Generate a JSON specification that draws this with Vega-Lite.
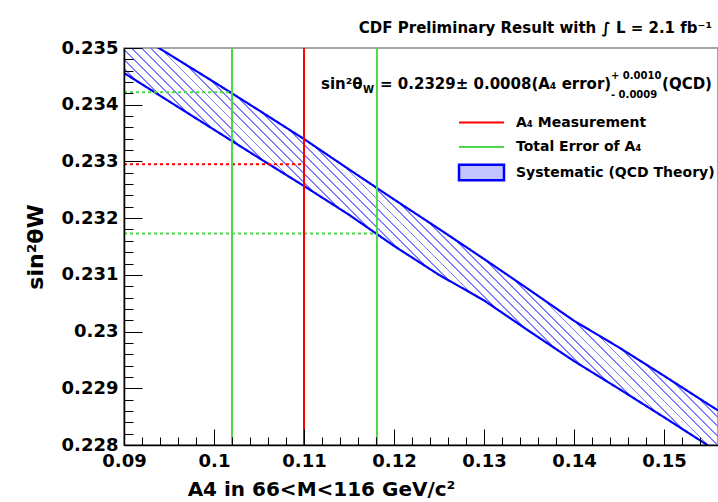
{
  "$schema": "https://vega.github.io/schema/vega-lite/v6.json",
  "width": 594,
  "height": 397,
  "autosize": "none",
  "padding": {"left": 124, "top": 48, "right": 0, "bottom": 57},
  "background": "white",
  "config": {
    "font": "DejaVu Sans",
    "view": {"stroke": "#888888", "strokeWidth": 1.5}
  },
  "title": {
    "text": "CDF Preliminary Result with ∫ L = 2.1 fb⁻¹",
    "anchor": "end",
    "frame": "group",
    "font": "DejaVu Sans",
    "fontSize": 15,
    "fontWeight": "bold",
    "color": "black",
    "dx": -6,
    "offset": 3
  },
  "datasets": {
    "band": [
      {"a4": 0.09, "hi": 0.23538, "lo": 0.23456, "sys": "Systematic (QCD Theory)"},
      {"a4": 0.095, "hi": 0.23489, "lo": 0.23406, "sys": "Systematic (QCD Theory)"},
      {"a4": 0.1, "hi": 0.2344, "lo": 0.23356, "sys": "Systematic (QCD Theory)"},
      {"a4": 0.105, "hi": 0.2339, "lo": 0.23306, "sys": "Systematic (QCD Theory)"},
      {"a4": 0.11, "hi": 0.233395, "lo": 0.232567, "sys": "Systematic (QCD Theory)"},
      {"a4": 0.115, "hi": 0.23286, "lo": 0.23206, "sys": "Systematic (QCD Theory)"},
      {"a4": 0.12, "hi": 0.23233, "lo": 0.23151, "sys": "Systematic (QCD Theory)"},
      {"a4": 0.125, "hi": 0.23181, "lo": 0.231, "sys": "Systematic (QCD Theory)"},
      {"a4": 0.13, "hi": 0.23128, "lo": 0.23055, "sys": "Systematic (QCD Theory)"},
      {"a4": 0.135, "hi": 0.23074, "lo": 0.23001, "sys": "Systematic (QCD Theory)"},
      {"a4": 0.14, "hi": 0.23019, "lo": 0.22948, "sys": "Systematic (QCD Theory)"},
      {"a4": 0.145, "hi": 0.22972, "lo": 0.22899, "sys": "Systematic (QCD Theory)"},
      {"a4": 0.15, "hi": 0.22922, "lo": 0.22849, "sys": "Systematic (QCD Theory)"},
      {"a4": 0.155, "hi": 0.22871, "lo": 0.22798, "sys": "Systematic (QCD Theory)"},
      {"a4": 0.156, "hi": 0.22861, "lo": 0.22788, "sys": "Systematic (QCD Theory)"}
    ],
    "vlines": [
      {"a4": 0.11, "entry": "A₄ Measurement"},
      {"a4": 0.102, "entry": "Total Error of A₄"},
      {"a4": 0.1181, "entry": "Total Error of A₄"}
    ],
    "hlines": [
      {"from": 0.09, "to": 0.11, "s2w": 0.23295, "entry": "A₄ Measurement"},
      {"from": 0.09, "to": 0.102, "s2w": 0.23422, "entry": "Total Error of A₄"},
      {"from": 0.09, "to": 0.1181, "s2w": 0.23173, "entry": "Total Error of A₄"}
    ]
  },
  "layer": [
    {
      "data": {"name": "band"},
      "mark": {
        "type": "area",
        "clip": true,
        "fill": {
          "gradient": "linear",
          "x1": 0, "y1": 0.716, "x2": 1, "y2": 0,
          "stops": [
            {"offset": 0, "color": "rgba(255,255,255,0)"},
            {"offset": 0.2700, "color": "rgba(255,255,255,0)"}, {"offset": 0.2700, "color": "#8080ff"}, {"offset": 0.2720, "color": "#8080ff"}, {"offset": 0.2720, "color": "rgba(255,255,255,0)"},
            {"offset": 0.2805, "color": "rgba(255,255,255,0)"}, {"offset": 0.2805, "color": "#8080ff"}, {"offset": 0.2825, "color": "#8080ff"}, {"offset": 0.2825, "color": "rgba(255,255,255,0)"},
            {"offset": 0.2910, "color": "rgba(255,255,255,0)"}, {"offset": 0.2910, "color": "#8080ff"}, {"offset": 0.2930, "color": "#8080ff"}, {"offset": 0.2930, "color": "rgba(255,255,255,0)"},
            {"offset": 0.3015, "color": "rgba(255,255,255,0)"}, {"offset": 0.3015, "color": "#8080ff"}, {"offset": 0.3035, "color": "#8080ff"}, {"offset": 0.3035, "color": "rgba(255,255,255,0)"},
            {"offset": 0.3120, "color": "rgba(255,255,255,0)"}, {"offset": 0.3120, "color": "#8080ff"}, {"offset": 0.3140, "color": "#8080ff"}, {"offset": 0.3140, "color": "rgba(255,255,255,0)"},
            {"offset": 0.3225, "color": "rgba(255,255,255,0)"}, {"offset": 0.3225, "color": "#8080ff"}, {"offset": 0.3245, "color": "#8080ff"}, {"offset": 0.3245, "color": "rgba(255,255,255,0)"},
            {"offset": 0.3330, "color": "rgba(255,255,255,0)"}, {"offset": 0.3330, "color": "#8080ff"}, {"offset": 0.3350, "color": "#8080ff"}, {"offset": 0.3350, "color": "rgba(255,255,255,0)"},
            {"offset": 0.3435, "color": "rgba(255,255,255,0)"}, {"offset": 0.3435, "color": "#8080ff"}, {"offset": 0.3455, "color": "#8080ff"}, {"offset": 0.3455, "color": "rgba(255,255,255,0)"},
            {"offset": 0.3540, "color": "rgba(255,255,255,0)"}, {"offset": 0.3540, "color": "#8080ff"}, {"offset": 0.3560, "color": "#8080ff"}, {"offset": 0.3560, "color": "rgba(255,255,255,0)"},
            {"offset": 0.3645, "color": "rgba(255,255,255,0)"}, {"offset": 0.3645, "color": "#8080ff"}, {"offset": 0.3665, "color": "#8080ff"}, {"offset": 0.3665, "color": "rgba(255,255,255,0)"},
            {"offset": 0.3750, "color": "rgba(255,255,255,0)"}, {"offset": 0.3750, "color": "#8080ff"}, {"offset": 0.3770, "color": "#8080ff"}, {"offset": 0.3770, "color": "rgba(255,255,255,0)"},
            {"offset": 0.3855, "color": "rgba(255,255,255,0)"}, {"offset": 0.3855, "color": "#8080ff"}, {"offset": 0.3875, "color": "#8080ff"}, {"offset": 0.3875, "color": "rgba(255,255,255,0)"},
            {"offset": 0.3960, "color": "rgba(255,255,255,0)"}, {"offset": 0.3960, "color": "#8080ff"}, {"offset": 0.3980, "color": "#8080ff"}, {"offset": 0.3980, "color": "rgba(255,255,255,0)"},
            {"offset": 0.4065, "color": "rgba(255,255,255,0)"}, {"offset": 0.4065, "color": "#8080ff"}, {"offset": 0.4085, "color": "#8080ff"}, {"offset": 0.4085, "color": "rgba(255,255,255,0)"},
            {"offset": 0.4170, "color": "rgba(255,255,255,0)"}, {"offset": 0.4170, "color": "#8080ff"}, {"offset": 0.4190, "color": "#8080ff"}, {"offset": 0.4190, "color": "rgba(255,255,255,0)"},
            {"offset": 0.4275, "color": "rgba(255,255,255,0)"}, {"offset": 0.4275, "color": "#8080ff"}, {"offset": 0.4295, "color": "#8080ff"}, {"offset": 0.4295, "color": "rgba(255,255,255,0)"},
            {"offset": 0.4380, "color": "rgba(255,255,255,0)"}, {"offset": 0.4380, "color": "#8080ff"}, {"offset": 0.4400, "color": "#8080ff"}, {"offset": 0.4400, "color": "rgba(255,255,255,0)"},
            {"offset": 0.4485, "color": "rgba(255,255,255,0)"}, {"offset": 0.4485, "color": "#8080ff"}, {"offset": 0.4505, "color": "#8080ff"}, {"offset": 0.4505, "color": "rgba(255,255,255,0)"},
            {"offset": 0.4590, "color": "rgba(255,255,255,0)"}, {"offset": 0.4590, "color": "#8080ff"}, {"offset": 0.4610, "color": "#8080ff"}, {"offset": 0.4610, "color": "rgba(255,255,255,0)"},
            {"offset": 0.4695, "color": "rgba(255,255,255,0)"}, {"offset": 0.4695, "color": "#8080ff"}, {"offset": 0.4715, "color": "#8080ff"}, {"offset": 0.4715, "color": "rgba(255,255,255,0)"},
            {"offset": 0.4800, "color": "rgba(255,255,255,0)"}, {"offset": 0.4800, "color": "#8080ff"}, {"offset": 0.4820, "color": "#8080ff"}, {"offset": 0.4820, "color": "rgba(255,255,255,0)"},
            {"offset": 0.4905, "color": "rgba(255,255,255,0)"}, {"offset": 0.4905, "color": "#8080ff"}, {"offset": 0.4925, "color": "#8080ff"}, {"offset": 0.4925, "color": "rgba(255,255,255,0)"},
            {"offset": 0.5010, "color": "rgba(255,255,255,0)"}, {"offset": 0.5010, "color": "#8080ff"}, {"offset": 0.5030, "color": "#8080ff"}, {"offset": 0.5030, "color": "rgba(255,255,255,0)"},
            {"offset": 0.5115, "color": "rgba(255,255,255,0)"}, {"offset": 0.5115, "color": "#8080ff"}, {"offset": 0.5135, "color": "#8080ff"}, {"offset": 0.5135, "color": "rgba(255,255,255,0)"},
            {"offset": 0.5220, "color": "rgba(255,255,255,0)"}, {"offset": 0.5220, "color": "#8080ff"}, {"offset": 0.5240, "color": "#8080ff"}, {"offset": 0.5240, "color": "rgba(255,255,255,0)"},
            {"offset": 0.5325, "color": "rgba(255,255,255,0)"}, {"offset": 0.5325, "color": "#8080ff"}, {"offset": 0.5345, "color": "#8080ff"}, {"offset": 0.5345, "color": "rgba(255,255,255,0)"},
            {"offset": 0.5430, "color": "rgba(255,255,255,0)"}, {"offset": 0.5430, "color": "#8080ff"}, {"offset": 0.5450, "color": "#8080ff"}, {"offset": 0.5450, "color": "rgba(255,255,255,0)"},
            {"offset": 0.5535, "color": "rgba(255,255,255,0)"}, {"offset": 0.5535, "color": "#8080ff"}, {"offset": 0.5555, "color": "#8080ff"}, {"offset": 0.5555, "color": "rgba(255,255,255,0)"},
            {"offset": 0.5640, "color": "rgba(255,255,255,0)"}, {"offset": 0.5640, "color": "#8080ff"}, {"offset": 0.5660, "color": "#8080ff"}, {"offset": 0.5660, "color": "rgba(255,255,255,0)"},
            {"offset": 0.5745, "color": "rgba(255,255,255,0)"}, {"offset": 0.5745, "color": "#8080ff"}, {"offset": 0.5765, "color": "#8080ff"}, {"offset": 0.5765, "color": "rgba(255,255,255,0)"},
            {"offset": 0.5850, "color": "rgba(255,255,255,0)"}, {"offset": 0.5850, "color": "#8080ff"}, {"offset": 0.5870, "color": "#8080ff"}, {"offset": 0.5870, "color": "rgba(255,255,255,0)"},
            {"offset": 1, "color": "rgba(255,255,255,0)"}
          ]
        }
      },
      "encoding": {
        "x": {
          "field": "a4", "type": "quantitative",
          "scale": {"domain": [0.09, 0.156], "nice": false, "zero": false},
          "axis": {
            "values": [0.09, 0.092, 0.094, 0.096, 0.098, 0.1, 0.102, 0.104, 0.106, 0.108, 0.11, 0.112, 0.114, 0.116, 0.118, 0.12, 0.122, 0.124, 0.126, 0.128, 0.13, 0.132, 0.134, 0.136, 0.138, 0.14, 0.142, 0.144, 0.146, 0.148, 0.15, 0.152, 0.154, 0.156],
            "tickCount": 100,
            "labelExpr": "abs(datum.value*100 - round(datum.value*100)) < 1e-6 ? format(datum.value, '.2~f') : ''",
            "tickSize": {"condition": {"test": "abs(datum.value*100 - round(datum.value*100)) < 1e-6", "value": -16}, "value": -8},
            "tickColor": "black",
            "tickWidth": 1,
            "domainColor": "black",
            "domainWidth": 1.5,
            "grid": false,
            "labelFlush": false,
            "labelOverlap": false,
            "labelFont": "DejaVu Sans",
            "labelFontWeight": "bold",
            "labelFontSize": 18,
            "labelColor": "black",
            "labelPadding": 23,
            "title": "A4 in 66<M<116 GeV/c²",
            "titleFont": "DejaVu Sans",
            "titleFontWeight": "bold",
            "titleFontSize": 20,
            "titleColor": "black",
            "titleX": 197,
            "titleAlign": "center",
            "titlePadding": 1,
            "zindex": 1
          }
        },
        "y": {
          "field": "hi", "type": "quantitative",
          "scale": {"domain": [0.228, 0.235], "nice": false, "zero": false},
          "axis": {
            "values": [0.228, 0.2282, 0.2284, 0.2286, 0.2288, 0.229, 0.2292, 0.2294, 0.2296, 0.2298, 0.23, 0.2302, 0.2304, 0.2306, 0.2308, 0.231, 0.2312, 0.2314, 0.2316, 0.2318, 0.232, 0.2322, 0.2324, 0.2326, 0.2328, 0.233, 0.2332, 0.2334, 0.2336, 0.2338, 0.234, 0.2342, 0.2344, 0.2346, 0.2348, 0.235],
            "tickCount": 100,
            "labelExpr": "abs(datum.value*1000 - round(datum.value*1000)) < 1e-6 ? format(datum.value, '.3~f') : ''",
            "tickSize": {"condition": {"test": "abs(datum.value*1000 - round(datum.value*1000)) < 1e-6", "value": -18}, "value": -9},
            "tickColor": "black",
            "tickWidth": 1,
            "domainColor": "black",
            "domainWidth": 1.5,
            "grid": false,
            "labelFlush": false,
            "labelOverlap": false,
            "labelFont": "DejaVu Sans",
            "labelFontWeight": "bold",
            "labelFontSize": 18,
            "labelColor": "black",
            "labelPadding": 24,
            "title": "sin²θW",
            "titleFont": "DejaVu Sans",
            "titleFontWeight": "bold",
            "titleFontSize": 22,
            "titleColor": "black",
            "titlePadding": 14,
            "zindex": 1
          }
        },
        "y2": {"field": "lo"}
      }
    },
    {
      "data": {"name": "band"},
      "transform": [{"fold": ["hi", "lo"], "as": ["edge", "s2w"]}],
      "mark": {"type": "line", "clip": true, "color": "#0000ff", "strokeWidth": 2.2},
      "encoding": {
        "x": {"field": "a4", "type": "quantitative", "scale": {"domain": [0.09, 0.156], "nice": false, "zero": false}},
        "y": {"field": "s2w", "type": "quantitative", "scale": {"domain": [0.228, 0.235], "nice": false, "zero": false}},
        "detail": {"field": "edge"},
        "strokeDash": {
          "field": "sys", "type": "nominal",
          "scale": {"domain": ["Systematic (QCD Theory)"], "range": [[1, 0]]},
          "legend": {
            "orient": "none",
            "legendX": 345,
            "legendY": 112,
            "title": null,
            "padding": 0,
            "symbolType": "M-2,-0.7H2V0.7H-2Z",
            "symbolSize": 506,
            "symbolStrokeWidth": 2.5,
            "symbolStrokeColor": "#0000ff",
            "symbolFillColor": "#c4c4ff",
            "labelOffset": 22,
            "labelLimit": 400,
            "labelFont": "DejaVu Sans",
            "labelFontWeight": "bold",
            "labelFontSize": 14,
            "labelColor": "black"
          }
        }
      }
    },
    {
      "data": {"name": "hlines"},
      "mark": {"type": "rule", "strokeWidth": 2, "strokeDash": [3, 3]},
      "encoding": {
        "x": {"field": "from", "type": "quantitative", "scale": {"domain": [0.09, 0.156], "nice": false, "zero": false}},
        "x2": {"field": "to"},
        "y": {"field": "s2w", "type": "quantitative", "scale": {"domain": [0.228, 0.235], "nice": false, "zero": false}},
        "stroke": {
          "field": "entry", "type": "nominal",
          "scale": {"domain": ["A₄ Measurement", "Total Error of A₄"], "range": ["#ff0000", "#4cd64c"]}
        }
      }
    },
    {
      "data": {"name": "vlines"},
      "mark": {"type": "rule", "strokeWidth": 2},
      "encoding": {
        "x": {"field": "a4", "type": "quantitative", "scale": {"domain": [0.09, 0.156], "nice": false, "zero": false}},
        "stroke": {
          "field": "entry", "type": "nominal",
          "scale": {"domain": ["A₄ Measurement", "Total Error of A₄"], "range": ["#ff0000", "#4cd64c"]},
          "legend": {
            "orient": "none",
            "legendX": 345,
            "legendY": 62,
            "title": null,
            "padding": 0,
            "symbolType": "M-2,0H2",
            "symbolSize": 506,
            "symbolStrokeWidth": 2,
            "labelOffset": 22,
            "rowPadding": 4.5,
            "labelLimit": 400,
            "labelFont": "DejaVu Sans",
            "labelFontWeight": "bold",
            "labelFontSize": 14,
            "labelColor": "black"
          }
        }
      }
    },
    {
      "data": {"values": [{"label": "sin²θ"}]},
      "mark": {"type": "text", "align": "left", "baseline": "middle", "font": "DejaVu Sans", "fontWeight": "bold", "fontSize": 15, "color": "black"},
      "encoding": {
        "x": {"datum": 0.11189, "type": "quantitative", "scale": {"domain": [0.09, 0.156], "nice": false, "zero": false}},
        "y": {"datum": 0.234365, "type": "quantitative", "scale": {"domain": [0.228, 0.235], "nice": false, "zero": false}},
        "text": {"field": "label"}
      }
    },
    {
      "data": {"values": [{"label": "W"}]},
      "mark": {"type": "text", "align": "left", "baseline": "middle", "font": "DejaVu Sans", "fontWeight": "bold", "fontSize": 10, "color": "black"},
      "encoding": {
        "x": {"datum": 0.11656, "type": "quantitative", "scale": {"domain": [0.09, 0.156], "nice": false, "zero": false}},
        "y": {"datum": 0.234259, "type": "quantitative", "scale": {"domain": [0.228, 0.235], "nice": false, "zero": false}},
        "text": {"field": "label"}
      }
    },
    {
      "data": {"values": [{"label": " = 0.2329± 0.0008(A₄ error)"}]},
      "mark": {"type": "text", "align": "left", "baseline": "middle", "font": "DejaVu Sans", "fontWeight": "bold", "fontSize": 15, "color": "black"},
      "encoding": {
        "x": {"datum": 0.11845, "type": "quantitative", "scale": {"domain": [0.09, 0.156], "nice": false, "zero": false}},
        "y": {"datum": 0.234365, "type": "quantitative", "scale": {"domain": [0.228, 0.235], "nice": false, "zero": false}},
        "text": {"field": "label"}
      }
    },
    {
      "data": {"values": [{"label": "+ 0.0010"}]},
      "mark": {"type": "text", "align": "left", "baseline": "middle", "font": "DejaVu Sans", "fontWeight": "bold", "fontSize": 10, "color": "black"},
      "encoding": {
        "x": {"datum": 0.14411, "type": "quantitative", "scale": {"domain": [0.09, 0.156], "nice": false, "zero": false}},
        "y": {"datum": 0.234506, "type": "quantitative", "scale": {"domain": [0.228, 0.235], "nice": false, "zero": false}},
        "text": {"field": "label"}
      }
    },
    {
      "data": {"values": [{"label": "- 0.0009"}]},
      "mark": {"type": "text", "align": "left", "baseline": "middle", "font": "DejaVu Sans", "fontWeight": "bold", "fontSize": 10, "color": "black"},
      "encoding": {
        "x": {"datum": 0.14411, "type": "quantitative", "scale": {"domain": [0.09, 0.156], "nice": false, "zero": false}},
        "y": {"datum": 0.234171, "type": "quantitative", "scale": {"domain": [0.228, 0.235], "nice": false, "zero": false}},
        "text": {"field": "label"}
      }
    },
    {
      "data": {"values": [{"label": "(QCD)"}]},
      "mark": {"type": "text", "align": "right", "baseline": "middle", "font": "DejaVu Sans", "fontWeight": "bold", "fontSize": 15, "color": "black"},
      "encoding": {
        "x": {"datum": 0.15533, "type": "quantitative", "scale": {"domain": [0.09, 0.156], "nice": false, "zero": false}},
        "y": {"datum": 0.234365, "type": "quantitative", "scale": {"domain": [0.228, 0.235], "nice": false, "zero": false}},
        "text": {"field": "label"}
      }
    }
  ]
}
